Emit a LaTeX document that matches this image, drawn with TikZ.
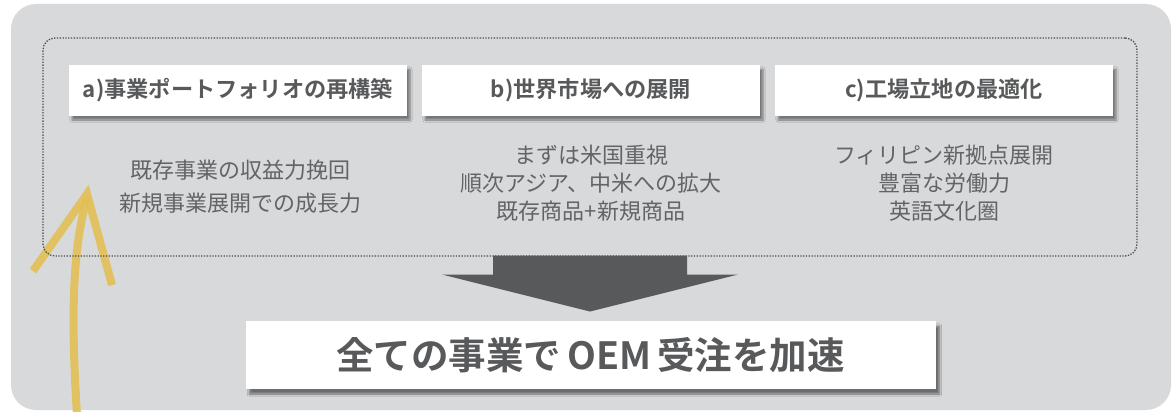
\documentclass[tikz,border=0pt]{standalone}
\usepackage{fontspec}
\setmainfont{Noto Sans CJK JP}[BoldFont={Noto Sans CJK JP Bold}]
\usetikzlibrary{shadows.blur}
\definecolor{bggray}{HTML}{D8D9DB}
\definecolor{darkg}{HTML}{58595B}
\definecolor{txtg}{HTML}{58595B}
\definecolor{bodyg}{HTML}{636466}
\definecolor{dotg}{HTML}{4A4B4D}
\definecolor{gold}{HTML}{E2BF55}
\tikzset{
  headbox/.style={fill=white, minimum width=338pt, minimum height=51pt, inner sep=0pt,
    blur shadow={shadow xshift=3pt, shadow yshift=-4pt, shadow blur steps=6, shadow opacity=45},
    font=\fontsize{22.2}{26}\selectfont\bfseries, text=txtg},
  bodytext/.style={align=center, text=bodyg, inner sep=0pt},
  resultbox/.style={fill=white, minimum width=690pt, minimum height=68pt, inner sep=0pt,
    blur shadow={shadow xshift=4pt, shadow yshift=-5pt, shadow blur steps=6, shadow opacity=50},
    font=\fontsize{37.5}{42}\selectfont\bfseries, text=txtg},
  goldline/.style={draw=gold, line width=8pt, opacity=0.9}
}
\begin{document}
\begin{tikzpicture}[x=1pt,y=-1pt]
\useasboundingbox (0,0) rectangle (1176,412);
\begin{scope}
\clip (0,0) rectangle (1176,412);
% background panel
\fill[bggray, rounded corners=25pt] (11,4) rectangle (1171,410);
% heading boxes
\node[headbox] (ha) at (238,90.5) {a)事業ポートフォリオの再構築};
\node[headbox] (hb) at (591,90.5) {b)世界市場への展開};
\node[headbox] (hc) at (944,90.5) {c)工場立地の最適化};
% body texts
\node[bodytext, font=\fontsize{22}{33}\selectfont] (ta) at (240.5,187) {既存事業の収益力挽回\\新規事業展開での成長力};
\node[bodytext, font=\fontsize{22}{28}\selectfont] (tb) at (591,183.5) {まずは米国重視\\順次アジア、中米への拡大\\既存商品+新規商品};
\node[bodytext, font=\fontsize{22}{28}\selectfont] (tc) at (944,183.5) {フィリピン新拠点展開\\豊富な労働力\\英語文化圏};
% gold arrow
\draw[goldline, line cap=butt] (77,415) .. controls (71,320) and (72,250) .. (87,198);
\draw[goldline, line cap=butt, line join=miter, miter limit=10] (33,271) -- (87,194) -- (112,285);
% dotted frame
\node[draw=dotg, line width=1.3pt, dash pattern=on 1.3pt off 1.5pt, rounded corners=12pt,
  minimum width=1094pt, minimum height=218pt, inner sep=0pt] (frame) at (590,147) {};
% result box
\node[resultbox] (res) at (590.5,355) {全ての事業で\,OEM\,受注を加速};
% big down arrow
\fill[darkg] (493,255.5) -- (687,255.5) -- (687,274.5) -- (738,274.5) -- (590,311.5)
  -- (442,274.5) -- (493,274.5) -- cycle;
\coordinate (arrtip) at (590,311.5);
\end{scope}
\end{tikzpicture}
\end{document}
